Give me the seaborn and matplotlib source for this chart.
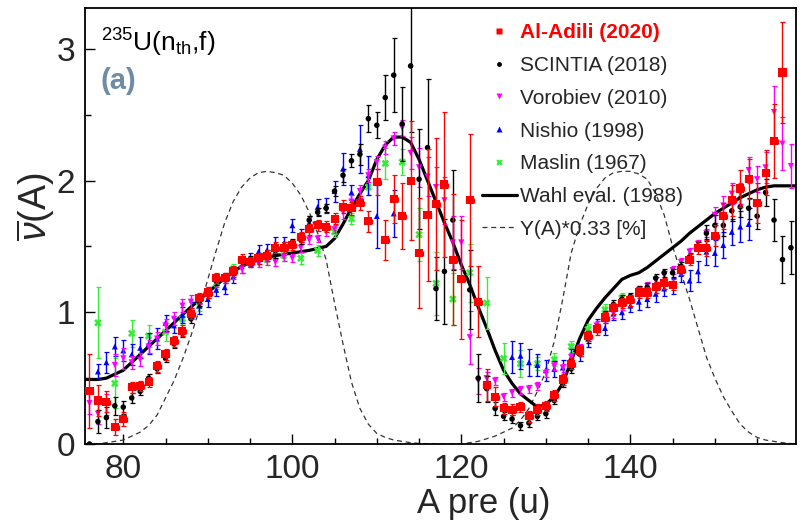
import matplotlib
matplotlib.use("Agg")
import matplotlib.pyplot as plt
from matplotlib.lines import Line2D
from matplotlib.ticker import MultipleLocator
import numpy as np
import pandas as pd
import seaborn as sns

nan = np.nan

# Al-Adili (2020), A = 76..158
adili_a = list(range(76, 159))
adili_nu = [
    0.40, 0.33, 0.32, 0.13, 0.19,
    0.43, 0.44, 0.47, 0.59, 0.68, 0.78, 0.86, 0.99, 1.11, 1.15,
    1.26, 1.26, 1.31, 1.40, 1.38, 1.41, 1.43, 1.49, 1.49, 1.51,
    1.57, 1.63, 1.66, 1.65, 1.71, 1.80, 1.79, 1.83, 1.69, 1.99,
    1.55, 1.86, 1.73, 2.00, 1.45, 1.74, 1.82, 1.97, 1.40, 1.25,
    1.85, 1.08, 0.45, 0.36, 0.27, 0.26, 0.28, 0.21, 0.26, 0.29,
    0.37, 0.49, 0.61, 0.71, 0.82, 0.87, 0.96, 1.03, 1.07, 1.09,
    1.15, 1.15, 1.19, 1.22, 1.21, 1.32, 1.40, 1.49, 1.49, 1.58,
    1.73, 1.85, 1.94, 2.01, 1.83, 2.06, 2.30, 2.82]
adili_err = [
    0.28, 0.12, 0.08, 0.06, 0.05,
    0.04, 0.04, 0.04, 0.04, 0.04, 0.04, 0.04, 0.04, 0.04, 0.04,
    0.04, 0.04, 0.04, 0.04, 0.04, 0.04, 0.04, 0.04, 0.04, 0.04,
    0.04, 0.04, 0.04, 0.04, 0.04, 0.05, 0.05, 0.05, 0.08, 0.10,
    0.15, 0.18, 0.25, 0.45, 0.42, 0.50, 0.50, 0.55, 0.50, 0.45,
    0.50, 0.27, 0.12, 0.07, 0.04, 0.04, 0.04, 0.04, 0.04, 0.04,
    0.04, 0.04, 0.04, 0.04, 0.04, 0.04, 0.04, 0.04, 0.04, 0.04,
    0.04, 0.04, 0.04, 0.04, 0.04, 0.04, 0.04, 0.05, 0.06, 0.08,
    0.10, 0.12, 0.14, 0.15, 0.15, 0.17, 0.28, 0.38]

# SCINTIA (2018), A = 76..159
scintia_a = list(range(76, 160))
scintia_nu = [
    0.00, 0.17, 0.20, 0.29, 0.28,
    0.35, 0.40, 0.50, 0.57, 0.65, 0.76, 0.84, 0.95, 1.08, 1.14,
    1.24, 1.27, 1.31, 1.39, 1.40, 1.42, 1.44, 1.44, 1.50, 1.53,
    1.55, 1.70, 1.76, 1.79, 1.92, 2.04, 2.15, 2.20, 2.47, 2.42,
    2.63, 2.80, 2.43, 2.87, 2.01, 2.25, 1.18, 1.31, 1.70, nan,
    1.17, 0.50, 0.42, 0.27, 0.21, 0.19, 0.14, 0.16, 0.21, 0.23,
    0.33, 0.46, 0.57, 0.70, 0.80, 0.88, 0.98, 1.06, 1.10, 1.12,
    1.17, 1.19, 1.26, 1.30, 1.30, 1.35, 1.42, 1.50, 1.60, 1.66,
    1.66, 1.77, 1.80, 1.79, 1.73, 1.91, 1.70, 1.40, 1.49]
scintia_err = [
    0.00, 0.09, 0.08, 0.07, 0.05,
    0.04, 0.03, 0.03, 0.03, 0.03, 0.03, 0.03, 0.03, 0.03, 0.03,
    0.03, 0.03, 0.03, 0.03, 0.03, 0.03, 0.03, 0.03, 0.03, 0.03,
    0.03, 0.03, 0.03, 0.03, 0.04, 0.05, 0.05, 0.08, 0.10, 0.10,
    0.17, 0.28, 0.28, 0.50, 0.38, 0.52, 0.24, 0.40, 0.38, nan,
    0.30, 0.18, 0.10, 0.05, 0.03, 0.03, 0.03, 0.03, 0.03, 0.03,
    0.03, 0.03, 0.03, 0.03, 0.03, 0.03, 0.03, 0.03, 0.03, 0.03,
    0.03, 0.03, 0.03, 0.03, 0.03, 0.03, 0.03, 0.03, 0.06, 0.08,
    0.08, 0.08, 0.08, 0.08, 0.10, 0.10, 0.16, 0.18, 0.20]

# Vorobiev (2010), A = 76..159
vorobiev_a = list(range(76, 160))
vorobiev_nu = [
    0.31, 0.23, 0.30, 0.60, 0.65,
    0.62, 0.64, 0.74, 0.80, 0.90, 0.95, 1.05, 1.08, 1.09, 1.16,
    1.22, 1.25, 1.28, 1.33, 1.37, 1.37, 1.39, 1.38, 1.42, 1.41,
    1.49, 1.55, 1.56, 1.61, 1.63, 1.76, 1.84, 1.92, 2.04, 2.14,
    2.25, 2.32, 2.40, 2.21, 2.10, 2.03, 1.95, 1.85, 1.53, 1.53,
    0.81, 0.48, 0.50, 0.48, 0.36, 0.39, 0.41, 0.42, 0.44, 0.54,
    0.59, 0.58, 0.66, 0.73, 0.81, 0.90, 0.95, 0.99, 1.05, 1.10,
    1.17, 1.20, 1.24, 1.28, 1.32, 1.38, 1.46, 1.52, 1.60, 1.74,
    1.81, 1.90, 1.90, 2.08, 2.01, 2.10, 2.52, 2.28, 2.11]
vorobiev_err = [
    0.08, 0.08, 0.08, 0.08, 0.08,
    0.05, 0.05, 0.05, 0.05, 0.05, 0.05, 0.05, 0.05, 0.03, 0.03,
    0.03, 0.03, 0.03, 0.03, 0.03, 0.03, 0.03, 0.03, 0.03, 0.03,
    0.03, 0.03, 0.03, 0.03, 0.03, 0.05, 0.05, 0.05, 0.05, 0.05,
    0.05, 0.05, 0.06, 0.12, 0.15, 0.15, 0.15, 0.18, 0.20, 0.20,
    0.20, 0.10, 0.05, 0.03, 0.03, 0.03, 0.03, 0.03, 0.03, 0.03,
    0.03, 0.03, 0.03, 0.03, 0.03, 0.03, 0.03, 0.03, 0.03, 0.03,
    0.03, 0.03, 0.03, 0.03, 0.03, 0.03, 0.03, 0.03, 0.03, 0.06,
    0.07, 0.08, 0.08, 0.10, 0.10, 0.12, 0.20, 0.20, 0.17]

# Nishio (1998), A = 77..112 and 126..154
nishio_a = list(range(77, 113)) + list(range(126, 155))
nishio_nu = [
    0.55, 0.62, 0.74, 0.71,
    0.68, 0.73, 0.76, 0.80, 0.92, 0.90, 0.98, 1.02, 1.05, 1.10,
    1.17, 1.19, 1.27, 1.35, 1.40, 1.46, 1.47, 1.52, 1.52, 1.66,
    1.58, 1.68, 1.80, 1.81, 1.92, 2.09, 1.91, 2.24, 2.04, 1.73,
    nan, 1.75,
    0.66, 0.67, 0.62, 0.60, 0.56,
    0.57, 0.58, 0.66, 0.69, 0.80, 0.90, 0.88, 0.99, 1.00, 1.05,
    1.08, 1.10, 1.14, 1.18, 1.20, 1.29, 1.24, 1.31, 1.46, 1.45,
    1.51, 1.61, 1.65, 1.67]
nishio_err = [
    0.06, 0.08, 0.07, 0.08,
    0.08, 0.08, 0.08, 0.08, 0.06, 0.06, 0.06, 0.06, 0.06, 0.06,
    0.05, 0.05, 0.05, 0.05, 0.05, 0.05, 0.05, 0.05, 0.05, 0.05,
    0.05, 0.05, 0.06, 0.06, 0.08, 0.12, 0.06, 0.18, 0.15, 0.24,
    nan, 0.18,
    0.12, 0.10, 0.10, 0.08, 0.08,
    0.06, 0.06, 0.06, 0.06, 0.06, 0.05, 0.05, 0.05, 0.05, 0.05,
    0.06, 0.06, 0.06, 0.06, 0.06, 0.06, 0.08, 0.08, 0.10, 0.10,
    0.10, 0.10, 0.12, 0.12]

# Maslin (1967), odd A = 77..139
maslin_a = list(range(77, 140, 2))
maslin_nu = [0.92, 0.46, 0.84, 0.82, 0.85, 0.95, 1.05, 1.22, 1.33, 1.38,
             1.40, 1.43, 1.41, 1.47, 1.61, 1.71, 1.95, 2.13, 2.14, 1.59,
             1.22, 1.10, 1.30, 1.07, 0.65, 0.61, 0.61, 0.64, 0.74, 0.87,
             1.02, 1.11]
maslin_err = [0.27, 0.19, 0.10, 0.08, 0.07, 0.05, 0.04, 0.04, 0.04, 0.04,
              0.04, 0.04, 0.04, 0.04, 0.04, 0.04, 0.06, 0.12, 0.10, 0.20,
              0.24, 0.20, 0.22, 0.20, 0.12, 0.10, 0.05, 0.05, 0.04, 0.04,
              0.04, 0.04]

# Wahl evaluation (1988)
wahl_a = [75.5, 77, 78, 79, 80, 82, 84, 86, 88, 90, 92, 94, 96, 98, 100,
          102, 104, 105, 106, 107, 108, 109, 110, 111, 112, 113, 114, 115,
          116, 117, 118, 119, 120, 121, 122, 123, 124, 125, 126, 127, 128,
          129, 130, 131, 132, 133, 134, 135, 136, 137, 138, 139, 140, 141,
          142, 143, 144, 145, 146, 147, 148, 149, 150, 151, 152, 153, 154,
          155, 156, 157, 158, 159.6]
wahl_nu = [0.49, 0.49, 0.50, 0.53, 0.56, 0.68, 0.80, 0.92, 1.04, 1.15, 1.26,
           1.35, 1.40, 1.43, 1.45, 1.47, 1.50, 1.56, 1.67, 1.79, 1.90, 2.00,
           2.16, 2.27, 2.33, 2.33, 2.29, 2.16, 2.00, 1.84, 1.68, 1.53, 1.36,
           1.21, 1.04, 0.88, 0.71, 0.56, 0.46, 0.38, 0.33, 0.28, 0.30, 0.36,
           0.46, 0.63, 0.80, 0.94, 1.03, 1.11, 1.18, 1.25, 1.28, 1.30, 1.34,
           1.39, 1.44, 1.49, 1.54, 1.60, 1.65, 1.70, 1.75, 1.79, 1.83, 1.87,
           1.90, 1.93, 1.95, 1.96, 1.96, 1.96]

# mass yield Y(A) * 0.33 [%]
yield_a = [75.5, 77, 78, 80, 82, 83, 84, 85, 86, 87, 88, 89, 90, 91, 92, 93,
           94, 95, 96, 97, 98, 99, 100, 101, 102, 103, 104, 105, 106, 107,
           108, 109, 110, 111, 112, 114, 116, 120, 122, 123, 124, 125, 126,
           127, 128, 129, 130, 131, 132, 133, 134, 135, 136, 137, 138, 139,
           140, 141, 142, 143, 144, 145, 146, 147, 148, 149, 150, 151, 152,
           153, 154, 155, 156, 157, 158, 159.6]
yield_val = [0.0, 0.0, 0.01, 0.03, 0.09, 0.14, 0.22, 0.35, 0.48, 0.64, 0.82,
             1.02, 1.25, 1.47, 1.68, 1.84, 1.95, 2.02, 2.06, 2.07, 2.06,
             2.04, 1.98, 1.89, 1.76, 1.60, 1.40, 1.07, 0.76, 0.47, 0.27,
             0.15, 0.08, 0.05, 0.03, 0.01, 0.0, 0.0, 0.02, 0.04, 0.06,
             0.09, 0.12, 0.18, 0.27, 0.40, 0.55, 0.78, 1.10, 1.45, 1.66,
             1.82, 1.94, 2.02, 2.06, 2.07, 2.07, 2.05, 2.01, 1.90, 1.74,
             1.50, 1.30, 1.10, 0.88, 0.66, 0.50, 0.36, 0.25, 0.15, 0.09,
             0.05, 0.03, 0.02, 0.01, 0.0]

legend_labels = ["Al-Adili (2020)", "SCINTIA (2018)", "Vorobiev (2010)",
                 "Nishio (1998)", "Maslin (1967)", "Wahl eval. (1988)",
                 "Y(A)*0.33 [%]"]

RED, BLACK, MAGENTA, BLUE, GREEN = "#ff0000", "#000000", "#ff00ff", "#0000ff", "#33ee33"

sns.set_theme(style="ticks")
plt.rcParams["font.family"] = ["Liberation Sans", "DejaVu Sans"]
plt.rcParams["mathtext.fontset"] = "custom"
plt.rcParams["mathtext.rm"] = "Liberation Sans"
plt.rcParams["mathtext.it"] = "Liberation Sans:italic"

fig = plt.figure(figsize=(8.05, 5.21), dpi=100)
ax = fig.add_axes([85 / 805, 77 / 521, 711 / 805, 436 / 521])

sns.lineplot(x=yield_a, y=yield_val, ax=ax, color="#333333", lw=0.9,
             linestyle=(0, (4, 3)), zorder=1)
sns.lineplot(x=wahl_a, y=wahl_nu, ax=ax, color="black", lw=2.3, zorder=2)

series = [
    (maslin_a, maslin_nu, maslin_err, GREEN, "X", 30, 0.0),
    (nishio_a, nishio_nu, nishio_err, BLUE, "^", 18, 0.0),
    (vorobiev_a, vorobiev_nu, vorobiev_err, MAGENTA, "v", 20, 0.0),
    (scintia_a, scintia_nu, scintia_err, BLACK, "o", 16, 0.0),
    (adili_a, adili_nu, adili_err, RED, "s", 34, 0.45),
]
for z, (a, nu, err, col, mk, size, xerr) in enumerate(series):
    df = pd.DataFrame({"A": a, "nu": nu, "err": err}).dropna()
    ax.errorbar(df["A"], df["nu"], yerr=df["err"], xerr=xerr if xerr else None,
                fmt="none", ecolor=col, elinewidth=1.0, capsize=1.8,
                capthick=0.9, zorder=3 + 2 * z)
    sns.scatterplot(data=df, x="A", y="nu", ax=ax, color=col, marker=mk,
                    s=size, edgecolor="none", linewidth=0, zorder=4 + 2 * z)

ax.set_xlim(75.47, 159.6)
ax.set_ylim(0, 3.31)
ax.xaxis.set_major_locator(MultipleLocator(20))
ax.xaxis.set_minor_locator(MultipleLocator(5))
ax.yaxis.set_major_locator(MultipleLocator(1))
ax.yaxis.set_minor_locator(MultipleLocator(0.5))
ax.tick_params(which="both", direction="in", top=False, right=False,
               width=1.0, color="black")
ax.tick_params(which="major", length=7, pad=7, labelsize=24)
ax.tick_params(which="minor", length=4)
for sp in ax.spines.values():
    sp.set_linewidth(1.3)
    sp.set_color("black")

ax.set_xlabel("A pre (u)", fontsize=25)
ax.set_ylabel(r"$\overline{\nu}$(A)", fontsize=27)
ax.xaxis.set_label_coords(0.561, -0.098)
ax.yaxis.set_label_coords(-0.04, 0.545)

ax.text(0.022, 0.9, r"$^{235}$U(n$_{\rm th}$,f)", transform=ax.transAxes,
        fontsize=19, color="black")
ax.text(0.022, 0.815, "(a)", transform=ax.transAxes, fontsize=21,
        fontweight="bold", color="#6e8ca5")

handles = [
    Line2D([], [], ls="none", marker="s", ms=5, color=RED, mec="none"),
    Line2D([], [], ls="none", marker="o", ms=3.5, color=BLACK, mec="none"),
    Line2D([], [], ls="none", marker="v", ms=4, color=MAGENTA, mec="none"),
    Line2D([], [], ls="none", marker="^", ms=4, color=BLUE, mec="none"),
    Line2D([], [], ls="none", marker="X", ms=5, color=GREEN, mec="none"),
    Line2D([], [], color="black", lw=2.3),
    Line2D([], [], color="#333333", lw=0.9, ls=(0, (4, 3))),
]
leg = ax.legend(handles, legend_labels, loc="upper left",
                bbox_to_anchor=(0.558, 0.965), frameon=False, fontsize=15,
                handlelength=1.7, handletextpad=0.15, labelspacing=0.66,
                borderpad=0, borderaxespad=0)
leg.get_texts()[0].set_color(RED)
leg.get_texts()[0].set_fontweight("bold")

fig.savefig("out.png", dpi=100)
